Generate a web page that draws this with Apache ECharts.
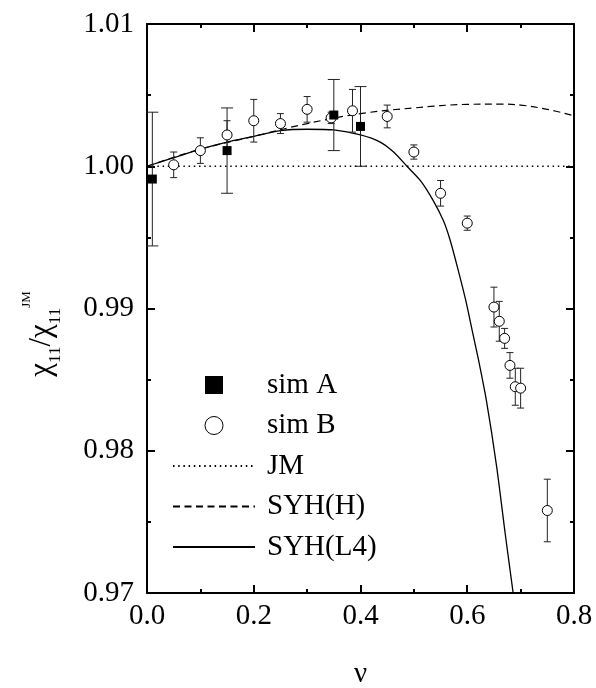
<!DOCTYPE html>
<html>
<head>
<meta charset="utf-8">
<script src="https://cdn.jsdelivr.net/npm/echarts@6/dist/echarts.min.js"></script>
<style>html,body{margin:0;padding:0;background:#fff}#c{width:596px;height:688px}</style>
</head>
<body>
<div id="c"></div>
<script>
// ---- data ----
var simA_x   = [0.01, 0.15, 0.35, 0.40];
var simA_y   = [0.9991, 1.0011, 1.0036, 1.0028];
var simA_err = [0.0047, 0.0030, 0.0025, 0.0028];

var simB_x   = [0.05, 0.10, 0.15, 0.20, 0.25, 0.30, 0.345, 0.385, 0.45, 0.50, 0.55, 0.60, 0.65, 0.66, 0.67, 0.68, 0.69, 0.70, 0.75];
var simB_y   = [1.0001, 1.0011, 1.0022, 1.0032, 1.0030, 1.0040, 1.0034, 1.0039, 1.0035, 1.0010, 0.9981, 0.9960, 0.9901, 0.9891, 0.9879, 0.9860, 0.9845, 0.9844, 0.9758];
var simB_err = [0.0009, 0.0009, 0.0010, 0.0015, 0.0007, 0.0009, 0.0004, 0.0015, 0.0008, 0.0005, 0.0009, 0.0005, 0.0014, 0.0014, 0.0007, 0.0009, 0.0013, 0.0014, 0.0022];

var jm_x = [0, 0.8];
var jm_y = [1.0, 1.0];

var syhH_x = [0, 0.1, 0.2, 0.3, 0.4, 0.5, 0.6, 0.66, 0.7, 0.75, 0.8];
var syhH_y = [1.0, 1.0012, 1.0021, 1.0030, 1.0037, 1.0041, 1.00435, 1.00437, 1.0043, 1.0040, 1.00355];

var syhL4_x = [0, 0.05, 0.1, 0.15, 0.2, 0.25, 0.3, 0.35, 0.4, 0.437, 0.462, 0.487, 0.512, 0.536, 0.555, 0.568, 0.583, 0.597, 0.609, 0.621, 0.636, 0.655, 0.671, 0.686, 0.69];
var syhL4_y = [1.0, 1.0006, 1.0012, 1.0017, 1.0021, 1.0025, 1.0026, 1.00255, 1.0022, 1.0017, 1.0010, 1.0000, 0.9990, 0.9976, 0.9962, 0.9948, 0.9927, 0.9906, 0.9885, 0.9864, 0.9835, 0.9789, 0.9742, 0.9700, 0.9689];

var xTickLabels = ['0.0', '0.2', '0.4', '0.6', '0.8'];
var yTickLabels = ['0.97', '0.98', '0.99', '1.00', '1.01'];

// ---- helpers ----
function zip(xs, ys) { return xs.map(function (x, i) { return [x, ys[i]]; }); }
function errData(xs, ys, es) { return xs.map(function (x, i) { return [x, ys[i] - es[i], ys[i] + es[i]]; }); }
function errRender(capW) {
  return function (params, api) {
    var x = api.value(0);
    var lo = api.coord([x, api.value(1)]);
    var hi = api.coord([x, api.value(2)]);
    var s = { stroke: '#222', lineWidth: 1 };
    return {
      type: 'group',
      children: [
        { type: 'line', shape: { x1: lo[0], y1: lo[1], x2: hi[0], y2: hi[1] }, style: s },
        { type: 'line', shape: { x1: lo[0] - capW / 2, y1: lo[1], x2: lo[0] + capW / 2, y2: lo[1] }, style: s },
        { type: 'line', shape: { x1: hi[0] - capW / 2, y1: hi[1], x2: hi[0] + capW / 2, y2: hi[1] }, style: s }
      ]
    };
  };
}

var FONT = "'Liberation Serif', 'Times New Roman', serif";
var chart = echarts.init(document.getElementById('c'), null, { renderer: 'canvas' });

function majorAxis(extra) {
  return Object.assign({
    type: 'value',
    axisLine: { show: true, onZero: false, lineStyle: { color: '#000', width: 2 } },
    axisTick: { show: true, inside: true, length: 8, lineStyle: { color: '#000', width: 2 } },
    axisLabel: { show: false },
    splitLine: { show: false }
  }, extra);
}
function minorAxis(extra) {
  return Object.assign({
    type: 'value',
    axisLine: { show: false, onZero: false },
    axisTick: { show: true, inside: true, length: 4, lineStyle: { color: '#000', width: 2 } },
    axisLabel: { show: false },
    splitLine: { show: false }
  }, extra);
}

var option = {
  animation: false,
  backgroundColor: '#fff',
  grid: { left: 147, right: 22, top: 24, bottom: 95, containLabel: false, outerBoundsMode: 'none' },
  xAxis: [
    majorAxis({
      min: 0, max: 0.8, interval: 0.2, position: 'bottom',
      axisLabel: { show: true, margin: 9, color: '#000', fontFamily: FONT, fontSize: 29,
        formatter: function (v) { return xTickLabels[Math.round(v / 0.2)]; } },
      name: 'ν', nameLocation: 'middle', nameGap: 67,
      nameTextStyle: { color: '#000', fontFamily: FONT, fontSize: 29 }
    }),
    majorAxis({ min: 0, max: 0.8, interval: 0.2, position: 'top' }),
    minorAxis({ min: 0, max: 0.8, interval: 0.1, position: 'bottom' }),
    minorAxis({ min: 0, max: 0.8, interval: 0.1, position: 'top' })
  ],
  yAxis: [
    majorAxis({
      min: 0.97, max: 1.01, interval: 0.01, position: 'left',
      axisLabel: { show: true, margin: 13, color: '#000', fontFamily: FONT, fontSize: 29,
        formatter: function (v) { return yTickLabels[Math.round((v - 0.97) / 0.01)]; } }
    }),
    majorAxis({ min: 0.97, max: 1.01, interval: 0.01, position: 'right' }),
    minorAxis({ min: 0.97, max: 1.01, interval: 0.005, position: 'left' }),
    minorAxis({ min: 0.97, max: 1.01, interval: 0.005, position: 'right' })
  ],
  legend: {
    orient: 'vertical', left: 172, top: 370, padding: 0,
    itemWidth: 82, itemHeight: 18, itemGap: 10.5,
    itemStyle: { borderWidth: 1 },
    textStyle: { color: '#000', fontFamily: FONT, fontSize: 29, lineHeight: 30, padding: [0, 0, 0, 7] },
    data: [
      { name: 'sim A', icon: 'path://M0,0H10V10H0Z' },
      { name: 'sim B', icon: 'circle' },
      { name: 'JM', itemStyle: { opacity: 0 } },
      { name: 'SYH(H)', itemStyle: { opacity: 0 } },
      { name: 'SYH(L4)', itemStyle: { opacity: 0 } }
    ]
  },
  graphic: [{
    type: 'text',
    x: 42, y: 334, rotation: Math.PI / 2,
    style: {
      text: '{m|χ}{s|11}{m|/χ}{s|11}{p|JM}',
      align: 'center', verticalAlign: 'middle',
      fill: '#000',
      rich: {
        m: { fontFamily: FONT, fontSize: 31, lineHeight: 44, verticalAlign: 'middle', fill: '#000' },
        s: { fontFamily: FONT, fontSize: 17, lineHeight: 30, verticalAlign: 'bottom', fill: '#000' },
        p: { fontFamily: FONT, fontSize: 13, lineHeight: 16, verticalAlign: 'top', fill: '#000' }
      }
    }
  }],
  series: [
    { name: 'JM', type: 'line', data: zip(jm_x, jm_y), showSymbol: false, symbol: 'none',
      lineStyle: { color: '#000', width: 1.3, type: [1.5, 3.7] }, itemStyle: { color: '#000' }, z: 2 },
    { name: 'SYH(H)', type: 'line', data: zip(syhH_x, syhH_y), showSymbol: false, symbol: 'none', smooth: 0.4,
      lineStyle: { color: '#000', width: 1.2, type: [7, 4.5] }, itemStyle: { color: '#000' }, z: 2 },
    { name: 'SYH(L4)', type: 'line', data: zip(syhL4_x, syhL4_y), showSymbol: false, symbol: 'none', smooth: 0.25,
      clip: true,
      lineStyle: { color: '#000', width: 1.3 }, itemStyle: { color: '#000' }, z: 2 },
    { name: 'errA', type: 'custom', renderItem: errRender(12), data: errData(simA_x, simA_y, simA_err),
      encode: { x: 0, y: [1, 2] }, z: 3, silent: true },
    { name: 'errB', type: 'custom', renderItem: errRender(7), data: errData(simB_x, simB_y, simB_err),
      encode: { x: 0, y: [1, 2] }, z: 3, silent: true },
    { name: 'sim B', type: 'scatter', data: zip(simB_x, simB_y), symbol: 'circle', symbolSize: 10,
      itemStyle: { color: '#fff', borderColor: '#000', borderWidth: 1, opacity: 1 }, z: 4 },
    { name: 'sim A', type: 'scatter', data: zip(simA_x, simA_y), symbol: 'rect', symbolSize: 9,
      itemStyle: { color: '#000', opacity: 1 }, z: 5 }
  ]
};
chart.setOption(option);
</script>
</body>
</html>
